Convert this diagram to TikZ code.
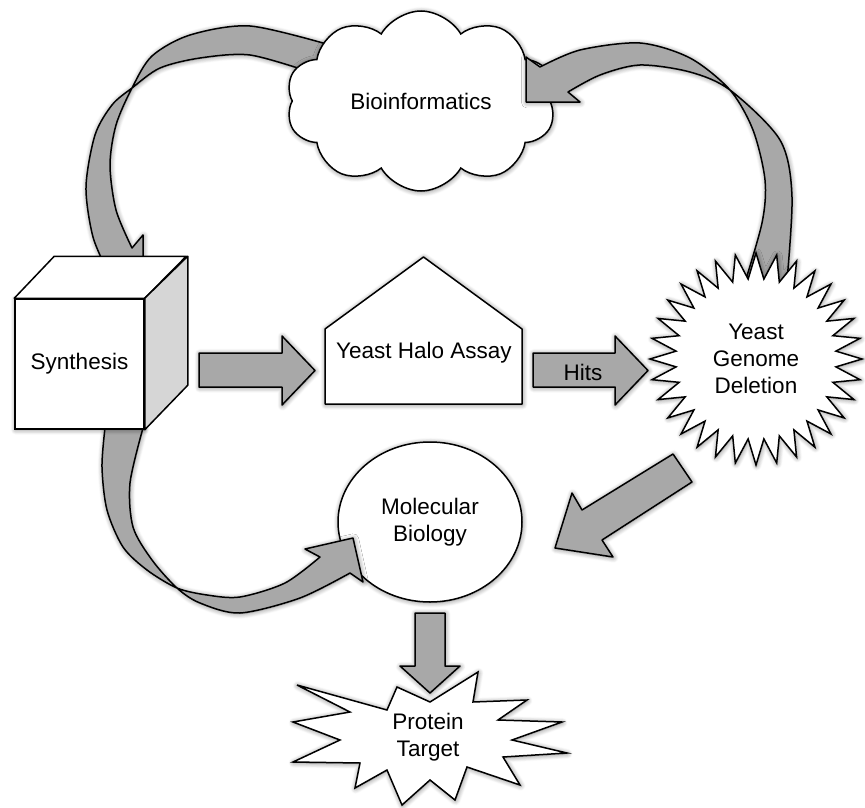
\documentclass[tikz,border=0pt]{standalone}
\usepackage{fontspec}
\setmainfont{Liberation Sans}
\usetikzlibrary{shapes.geometric,shapes.symbols,shadows.blur}
\definecolor{arrowgray}{gray}{0.66}
\definecolor{sidegray}{gray}{0.84}
\tikzset{
  softshadow/.style={blur shadow={shadow xshift=0.6pt, shadow yshift=-0.8pt,
      shadow blur radius=5pt, shadow blur steps=8, shadow opacity=50}},
  box/.style={draw, line width=1.5pt, fill=white, softshadow},
  face/.style={draw, line width=1.5pt, line join=round},
  ribbon/.style={draw, line width=1.5pt, fill=arrowgray, line join=round, softshadow}
}
\begin{document}
\begin{tikzpicture}[x=1pt, y=-1pt,
  every node/.style={font=\fontsize{22.5}{27}\selectfont, align=center}]
\useasboundingbox (0,0) rectangle (865,808);

% curved arrow from the cloud down into the cube
\draw[ribbon] plot[smooth] coordinates {(330,45) (250,26) (190,35) (152,56) (132,88)
    (116,125) (110,165) (116,210) (132,248)}
  -- (143,235) -- (143,287) -- (96,287) -- (109,274)
  -- plot[smooth] coordinates {(109,274) (93,237) (86,187) (95,135) (112,105) (132,88)
    (160,68) (200,58) (250,55) (310,72)} -- cycle;

\node[box, cloud, cloud puffs=10, cloud puff arc=120, cloud ignores aspect,
  inner sep=0pt, minimum width=270, minimum height=180] (bioinfo) at (421,101)
  {Bioinformatics};

% curved arrow from the deletion star back up to the cloud
\draw[ribbon] plot[smooth] coordinates {(742,292) (762,223) (765,180) (753,130) (730,90)
    (690,58) (640,43) (580,50) (540,67)}
  -- (526,57) -- (526,102) -- (580,102) -- (568,92)
  -- plot[smooth] coordinates {(568,92) (600,75) (640,65) (690,72) (730,90) (780,140)
    (792,197) (786,292)} -- cycle;

\node[box, star, star points=32, star point ratio=1.32, minimum size=212,
  inner sep=0pt] (yeastdel) at (756,359) {Yeast\\Genome\\Deletion};

\node[box, ellipse, minimum width=184, minimum height=160] (molbio) at (430,522)
  {Molecular\\Biology};

% curved arrow from the cube round to the circle
\draw[ribbon] plot[smooth] coordinates {(105,428) (102,467) (107,510) (123,547) (147,570)
    (177,588) (207,595) (240,597) (285,583) (320,557)}
  -- (305,549) -- (353,538) -- (363,582) -- (350,573)
  -- plot[smooth] coordinates {(350,573) (300,598) (240,613) (200,603) (177,588)
    (152,560) (133,527) (130,483) (143,428)} -- cycle;

% the cube
\node[box, minimum width=129, minimum height=130] (synth) at (79.5,364) {Synthesis};
\draw[face, fill=white] (synth.north west) -- ++(40,-42) -- ++(132,0)
  -- (synth.north east) -- cycle;
\draw[face, fill=sidegray] (synth.north east) -- ++(43,-42) -- ++(0,129)
  -- (synth.south east) -- cycle;

% the house
\draw[box, line join=round] (325,404) -- (325,329) -- (423.5,257) -- (522,329)
  -- (522,404) -- cycle;
\node (halo) at (424,353) {Yeast Halo Assay};

% straight arrows
\draw[ribbon] (199,353) -- (282,353) -- (282,336) -- (315,370.5) -- (282,405)
  -- (282,387) -- (199,387) -- cycle;
\draw[ribbon] (533,353) -- (615,353) -- (615,336) -- (648,370.5) -- (615,405)
  -- (615,387) -- (533,387) -- cycle;
\node (hits) at (583,372) {Hits};
\draw[ribbon] (673,454) -- (582,510) -- (572,493) -- (555,548) -- (613,557)
  -- (602,540) -- (692,482) -- cycle;

% the target burst
\draw[box, line join=miter] (297,685) -- (387,710) -- (397,687) -- (430,702) -- (478,672)
  -- (473,702) -- (527,700) -- (498,720) -- (562,722) -- (512,740) -- (567,753)
  -- (503,757) -- (520,785) -- (467,767) -- (455,800) -- (430,780) -- (402,805)
  -- (387,770) -- (355,788) -- (360,763) -- (293,762) -- (340,740) -- (293,722)
  -- (350,712) -- cycle;
\node (target) at (428,737) {Protein\\Target};

\draw[ribbon] (415,613) -- (445,613) -- (445,666) -- (460,666) -- (430,693)
  -- (400,666) -- (415,666) -- cycle;

\end{tikzpicture}
\end{document}
